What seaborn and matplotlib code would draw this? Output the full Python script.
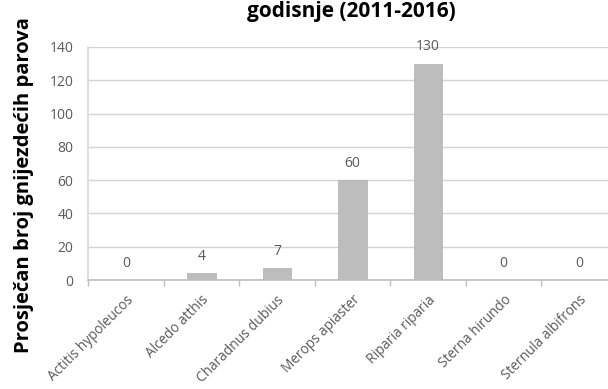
import matplotlib
matplotlib.use("Agg")
import matplotlib.pyplot as plt
import seaborn as sns
import pandas as pd
import numpy as np

species = ["Actitis hypoleucos", "Alcedo atthis", "Charadnus dubius", "Merops apiaster",
           "Riparia riparia", "Sterna hirundo", "Sternula albifrons"]
pairs = [0, 4, 7, 60, 130, 0, 0]
yticks = [0, 20, 40, 60, 80, 100, 120, 140]

sns.set_theme(style="white")
plt.rcParams['font.family'] = ['Open Sans', 'DejaVu Sans']

df = pd.DataFrame({"species": species, "pairs": pairs})

fig = plt.figure(figsize=(6.08, 3.89), dpi=100)
ax = fig.add_axes([88/608, 1-280/389, (617-88)/608, (280-47)/389])

sns.barplot(data=df, x="species", y="pairs", color="#bdbdbd", width=0.38,
            saturation=1, ax=ax, edgecolor="#b0b0b0", linewidth=0.5, zorder=3)

ax.set_xlim(-0.5, 6.5)
ax.set_ylim(0, 140)
ax.set_yticks(yticks)
ax.yaxis.grid(True, color="#d4d4d4", linewidth=1.0, zorder=0)
ax.set_axisbelow(True)
for s in ["top", "right"]:
    ax.spines[s].set_visible(False)
ax.spines["left"].set_color("#d9d9d9")
ax.spines["bottom"].set_color("#bfbfbf")

ax.tick_params(axis="y", labelsize=10, colors="#595959", length=0, pad=10.5)
ax.tick_params(axis="x", labelsize=9.8, colors="#595959", length=0, pad=9)
for lbl in ax.get_xticklabels():
    lbl.set_rotation(45)
    lbl.set_ha("right")
    lbl.set_rotation_mode("anchor")

ax.set_xticks(np.arange(-0.5, 7, 1), minor=True)
ax.tick_params(axis="x", which="minor", length=4, color="#bfbfbf", bottom=True)

for i, v in enumerate(pairs):
    ax.annotate(str(v), (i, v), xytext=(0, 12), textcoords="offset points",
                ha="center", va="center", fontsize=10, color="#595959")

ax.set_xlabel("")
ax.set_ylabel("Prosječan broj gnijezdećih parova", fontsize=14.5, fontweight="bold",
              color="black")
ax.yaxis.set_label_coords(-(88-34)/(617-88), (280-185)/(280-47))

fig.text(351/608, 1-11/389, "godisnje (2011-2016)", ha="center", va="center",
         fontsize=15, fontweight="bold", color="black")

fig.savefig("out.png", dpi=100)
